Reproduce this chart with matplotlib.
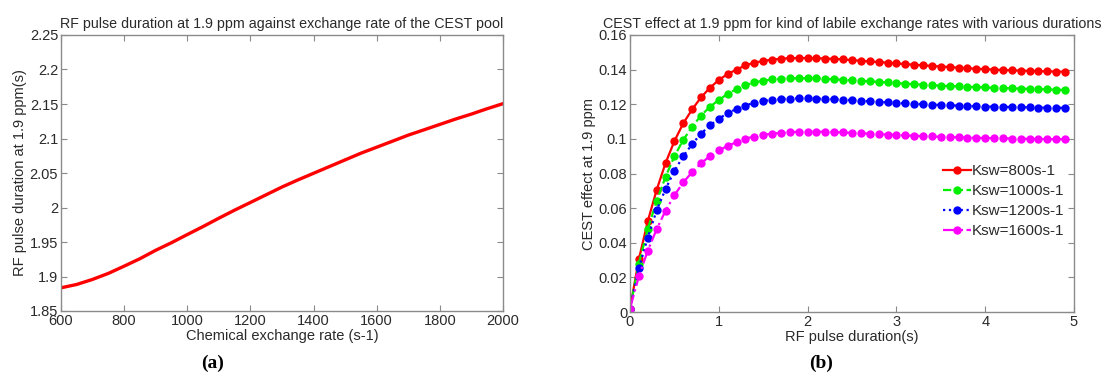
import matplotlib
matplotlib.use("Agg")
import matplotlib.pyplot as plt

plt.rcParams['font.family'] = ['Liberation Sans', 'DejaVu Sans']

# ---- Panel (a) data ----
rate_a = [600, 650, 700, 750, 800, 850, 900, 950, 1000, 1050, 1100, 1150, 1200, 1250, 1300,
          1350, 1400, 1450, 1500, 1550, 1600, 1650, 1700, 1750, 1800, 1850, 1900, 1950, 2000]
dur_a = [1.8836, 1.8885, 1.8958, 1.9045, 1.9150, 1.9258, 1.9380, 1.9490, 1.9608, 1.9724,
         1.9845, 1.9962, 2.0073, 2.0185, 2.0297, 2.0399, 2.0496, 2.0593, 2.0690, 2.0787,
         2.0874, 2.0961, 2.1049, 2.1126, 2.1204, 2.1282, 2.1354, 2.1432, 2.1505]

# ---- Panel (b) data ----
duration_b = [round(0.1 * i, 1) for i in range(50)]
cest_800 = [0.002, 0.0305, 0.0524, 0.0705, 0.086, 0.0987, 0.109, 0.117, 0.124, 0.1295,
            0.134, 0.1375, 0.140, 0.1425, 0.144, 0.145, 0.1458, 0.1463, 0.1466, 0.1467,
            0.1467, 0.1466, 0.1464, 0.1462, 0.1459, 0.1455, 0.1451, 0.1447, 0.1444, 0.1440,
            0.1436, 0.1432, 0.1428, 0.1425, 0.1421, 0.1418, 0.1415, 0.1411, 0.1408, 0.1405,
            0.1403, 0.1400, 0.1398, 0.1396, 0.1394, 0.1393, 0.1391, 0.1390, 0.1389, 0.1388]
cest_1000 = [0.002, 0.028, 0.048, 0.064, 0.078, 0.090, 0.0994, 0.107, 0.1135, 0.1185,
             0.1225, 0.126, 0.1288, 0.131, 0.1326, 0.1336, 0.1343, 0.1347, 0.1349, 0.1350,
             0.1350, 0.1349, 0.1347, 0.1344, 0.1341, 0.1338, 0.1335, 0.1332, 0.1329, 0.1326,
             0.1322, 0.1319, 0.1316, 0.1313, 0.1310, 0.1307, 0.1305, 0.1303, 0.1301, 0.1299,
             0.1297, 0.1295, 0.1293, 0.1292, 0.1290, 0.1289, 0.1287, 0.1286, 0.1284, 0.1283]
cest_1200 = [0.002, 0.0253, 0.043, 0.0587, 0.071, 0.0815, 0.090, 0.097, 0.103, 0.1078,
             0.1116, 0.1149, 0.1173, 0.1192, 0.121, 0.1219, 0.1226, 0.1230, 0.1233, 0.1234,
             0.1234, 0.1233, 0.1231, 0.1229, 0.1226, 0.1223, 0.1220, 0.1217, 0.1214, 0.1211,
             0.1208, 0.1205, 0.1203, 0.1200, 0.1198, 0.1196, 0.1194, 0.1192, 0.1190, 0.1189,
             0.1187, 0.1186, 0.1185, 0.1184, 0.1183, 0.1182, 0.1181, 0.1180, 0.1180, 0.1179]
cest_1600 = [0.002, 0.0206, 0.0354, 0.0478, 0.0585, 0.0674, 0.0749, 0.0808, 0.0859, 0.090,
             0.0933, 0.096, 0.0981, 0.1002, 0.1013, 0.1023, 0.1030, 0.1035, 0.1039, 0.1041,
             0.1042, 0.1042, 0.1041, 0.1039, 0.1037, 0.1035, 0.1032, 0.1030, 0.1027, 0.1025,
             0.1022, 0.1020, 0.1018, 0.1016, 0.1014, 0.1012, 0.1010, 0.1009, 0.1007, 0.1006,
             0.1005, 0.1004, 0.1003, 0.1002, 0.1001, 0.1000, 0.0999, 0.0999, 0.0998, 0.0998]
labels_b = ['Ksw=800s-1', 'Ksw=1000s-1', 'Ksw=1200s-1', 'Ksw=1600s-1']

ticks_a_x = [600, 800, 1000, 1200, 1400, 1600, 1800, 2000]
ticks_a_y = [1.85, 1.9, 1.95, 2.0, 2.05, 2.1, 2.15, 2.2, 2.25]
ticklabels_a_y = ['1.85', '1.9', '1.95', '2', '2.05', '2.1', '2.15', '2.2', '2.25']
ticks_b_x = [0, 1, 2, 3, 4, 5]
ticks_b_y = [0, 0.02, 0.04, 0.06, 0.08, 0.1, 0.12, 0.14, 0.16]
ticklabels_b_y = ['0', '0.02', '0.04', '0.06', '0.08', '0.1', '0.12', '0.14', '0.16']

W, H = 1102, 380
fig = plt.figure(figsize=(W / 100, H / 100), dpi=100)

spine_c = '#8a8a8a'
text_c = '#2a2a2a'

def style(ax):
    for s in ax.spines.values():
        s.set_color(spine_c)
        s.set_linewidth(1.0)
    ax.tick_params(direction='in', top=True, right=True, length=4, width=0.8,
                   color=spine_c, labelcolor=text_c, labelsize=10.5, pad=2)

ax1 = fig.add_axes([61 / W, 1 - 311 / H, (503 - 61) / W, (311 - 35) / H])
ax1.plot(rate_a, dur_a, color='#ff0000', lw=2.4, solid_capstyle='round')
ax1.set_xlim(600, 2000)
ax1.set_ylim(1.85, 2.25)
ax1.set_xticks(ticks_a_x)
ax1.set_yticks(ticks_a_y)
ax1.set_yticklabels(ticklabels_a_y)
style(ax1)
ax1.set_title('RF pulse duration at 1.9 ppm against exchange rate of the CEST pool',
              fontsize=10.3, color=text_c, pad=5)
ax1.set_xlabel('Chemical exchange rate (s-1)', fontsize=10.5, color=text_c, labelpad=1)
ax1.set_ylabel('RF pulse duration at 1.9 ppm(s)', fontsize=10.5, color=text_c, labelpad=2)

ax2 = fig.add_axes([630 / W, 1 - 312 / H, (1074 - 630) / W, (312 - 35) / H])
series = [cest_800, cest_1000, cest_1200, cest_1600]
colors = ['#ff0000', '#00ee00', '#0000ff', '#ff00ff']
styles = ['-', '--', ':', '-.']
for y, c, ls, lab in zip(series, colors, styles, labels_b):
    ax2.plot(duration_b, y, color=c, ls=ls, lw=1.6, marker='o', ms=5,
             mec=c, mfc=c, label=lab)
ax2.set_xlim(0, 5)
ax2.set_ylim(0, 0.16)
ax2.set_xticks(ticks_b_x)
ax2.set_yticks(ticks_b_y)
ax2.set_yticklabels(ticklabels_b_y)
style(ax2)
ax2.set_title('CEST effect at 1.9 ppm for kind of labile exchange rates with various durations',
              fontsize=10.3, color=text_c, pad=5)
ax2.set_xlabel('RF pulse duration(s)', fontsize=10.5, color=text_c, labelpad=1)
ax2.set_ylabel('CEST effect at 1.9 ppm', fontsize=10.5, color=text_c, labelpad=2)
leg = ax2.legend(loc='upper left', bbox_to_anchor=(943 / W, 1 - 164 / H),
                 bbox_transform=fig.transFigure, frameon=False, fontsize=11,
                 handlelength=1.8, handletextpad=0.1, labelspacing=0.4,
                 borderpad=0, borderaxespad=0)
for t in leg.get_texts():
    t.set_color(text_c)

fig.text(213 / W, 1 - 363 / H, '(a)', fontsize=14, fontweight='bold',
         family='Liberation Serif', ha='center', va='center', color='black')
fig.text(821 / W, 1 - 363 / H, '(b)', fontsize=14, fontweight='bold',
         family='Liberation Serif', ha='center', va='center', color='black')

fig.savefig('out.png', dpi=100)
